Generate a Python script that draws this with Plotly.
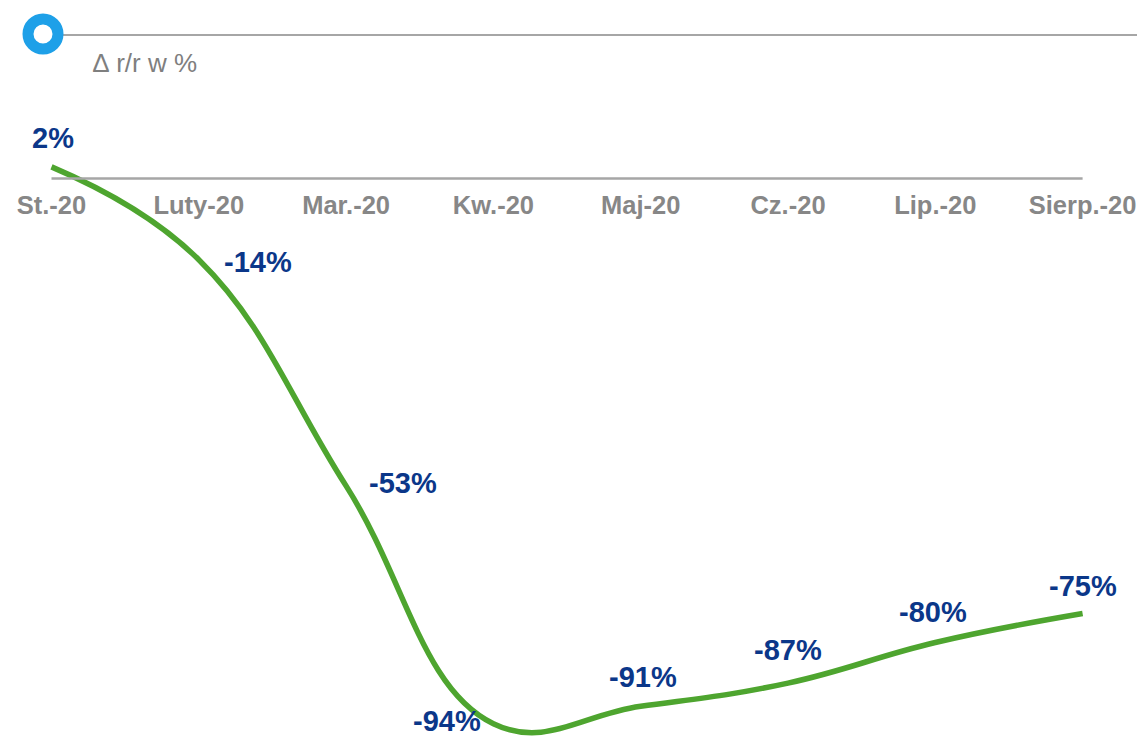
import plotly.graph_objects as go

# dane
months = ["St.-20", "Luty-20", "Mar.-20", "Kw.-20", "Maj-20", "Cz.-20", "Lip.-20", "Sierp.-20"]
yoy_change = [2, -14, -53, -94, -91, -87, -80, -75]
value_labels = ["2%", "-14%", "-53%", "-94%", "-91%", "-87%", "-80%", "-75%"]
subtitle = "\u2206 r/r w %"

OFF = 8  # domyslny margines strony (body) przesuwa wykres o 8 px
W, H = 1145 - OFF, 737 - OFF
FONT = "Arial, Liberation Sans, sans-serif"
GREEN = "#4ea52f"
NAVY = "#0b3789"
GREY_TXT = "#878787"
GREY_LINE = "#a6a6a6"


def px_x(x):
    return (x - OFF) / W


def px_y(y):
    return (H - (y - OFF)) / H


# skala: 0 w pikselu y=178.5, 5.8 px na 1 p.p.; kategoria 0 w x=51.5, 147.3 px na kategorie
y0_px = 178.5 - OFF
x0_px = 51.5 - OFF
y_range = [-(H - y0_px) / 5.8, y0_px / 5.8]
x_range = [-x0_px / 147.3, (W - x0_px) / 147.3]
zero_pos = -y_range[0] / (y_range[1] - y_range[0])

# przesuniecia etykiet wartosci (px)
label_shift = [(1, 29), (59, -2), (57, 3), (-46, 3), (2, 29), (0, 33), (-2, 31), (0, 28)]

fig = go.Figure()
fig.add_trace(go.Scatter(
    x=list(range(len(months))),
    y=yoy_change,
    mode="lines",
    line=dict(color=GREEN, width=5.5, shape="spline", smoothing=1.2),
    hoverinfo="skip",
    showlegend=False,
))

annotations = []
for i, (v, txt) in enumerate(zip(yoy_change, value_labels)):
    dx, dy = label_shift[i]
    annotations.append(dict(
        x=i, y=v, xref="x", yref="y", text=txt, showarrow=False,
        xshift=dx, yshift=dy, xanchor="center", yanchor="middle",
        font=dict(family=FONT, size=29, color=NAVY, weight="bold"),
    ))

annotations.append(dict(
    x=px_x(91), y=px_y(63), xref="paper", yref="paper", text=subtitle,
    showarrow=False, xanchor="left", yanchor="middle",
    font=dict(family=FONT, size=26, color="#7f7f7f"),
))

shapes = [
    # linia zera
    dict(type="line", xref="x", yref="y", x0=0, x1=len(months) - 1, y0=0, y1=0,
         line=dict(color=GREY_LINE, width=2.5)),
    # linia naglowka
    dict(type="line", xref="paper", yref="paper", x0=px_x(63), x1=1, y0=px_y(35), y1=px_y(35),
         line=dict(color=GREY_LINE, width=2)),
    # kolko
    dict(type="circle", xref="paper", yref="paper", xsizemode="pixel", ysizemode="pixel",
         xanchor=px_x(43), yanchor=px_y(34), x0=-15, x1=15, y0=-15, y1=15,
         line=dict(color="#1ea0e8", width=11), fillcolor="white"),
]

fig.update_layout(
    width=W, height=H,
    margin=dict(l=0, r=0, t=0, b=0),
    paper_bgcolor="white", plot_bgcolor="white",
    annotations=annotations,
    shapes=shapes,
    xaxis=dict(
        range=x_range, tickmode="array",
        tickvals=list(range(len(months))), ticktext=months,
        anchor="free", position=zero_pos, side="bottom",
        showgrid=False, zeroline=False, showline=False, ticks="",
        tickfont=dict(family=FONT, size=25.5, color=GREY_TXT, weight="bold"),
        ticklabelstandoff=9,
    ),
    yaxis=dict(range=y_range, visible=False, showgrid=False, zeroline=False),
)

fig.write_html("out.html")
